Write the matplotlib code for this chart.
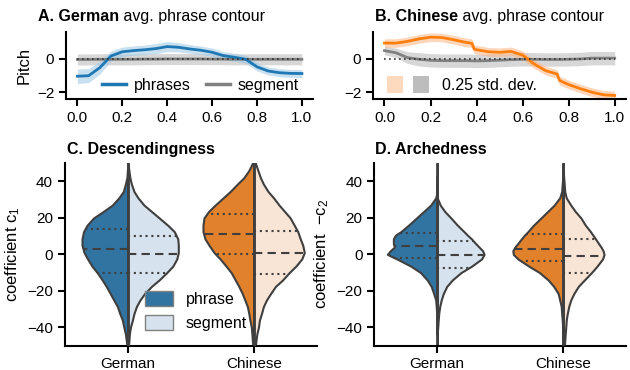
import matplotlib.pyplot as plt
import numpy as np
from matplotlib.patches import Patch
from matplotlib.lines import Line2D
from matplotlib.legend_handler import HandlerTuple

plt.rcParams['font.family'] = ['Liberation Sans', 'DejaVu Sans']
plt.rcParams['mathtext.fontset'] = 'custom'
plt.rcParams['mathtext.rm'] = 'Liberation Sans'
plt.rcParams['mathtext.it'] = 'Liberation Sans'
plt.rcParams['font.size'] = 11
plt.rcParams['axes.linewidth'] = 1.5
plt.rcParams['xtick.major.width'] = 1.5
plt.rcParams['ytick.major.width'] = 1.5
plt.rcParams['xtick.major.size'] = 5
plt.rcParams['ytick.major.size'] = 5

# --- average contours (panels A, B) ---
x_de = [0, .05, .1, .15, .2, .25, .3, .35, .4, .45, .5, .55, .6, .65, .7, .75, .8, .85, .9, .95, 1.0]
de_phrase = [-1.03, -1.0, -0.52, 0.18, 0.43, 0.5, 0.55, 0.62, 0.74, 0.7, 0.6, 0.52, 0.4, 0.2, 0.1, -0.02, -0.47, -0.72, -0.82, -0.86, -0.87]
de_phrase_sd = [0.43, 0.42, 0.38, 0.3, 0.28, 0.28, 0.28, 0.3, 0.3, 0.28, 0.26, 0.25, 0.25, 0.24, 0.24, 0.24, 0.24, 0.24, 0.24, 0.24, 0.24]
de_segment = [-0.03, -0.03, -0.02, -0.02, -0.02, -0.02, -0.01, -0.01, 0.0, 0.0, 0.0, 0.0, -0.01, -0.01, -0.02, -0.02, -0.02, -0.02, -0.02, -0.02, -0.02]
de_segment_sd = [0.33] * 21

x_zh = [0, .05, .1, .15, .2, .25, .3, .35, .38, .39, .45, .5, .55, .6, .65, .7, .75, .76, .8, .85, .9, .95, 1.0]
zh_phrase = [0.95, 0.95, 1.05, 1.2, 1.3, 1.28, 1.15, 1.0, 0.93, 0.58, 0.43, 0.4, 0.45, 0.23, -0.3, -0.7, -0.9, -1.28, -1.53, -1.77, -1.98, -2.14, -2.18]
zh_phrase_sd = [0.26] * 23
zh_segment = [0.5, 0.37, 0.08, -0.02, -0.08, -0.1, -0.1, -0.1, -0.11, -0.12, -0.1, -0.07, -0.04, -0.02, -0.02, -0.03, -0.03, -0.03, -0.02, 0.0, 0.05, 0.05, 0.05]
zh_segment_sd = [0.25, 0.28, 0.35, 0.4, 0.4, 0.4, 0.4, 0.4, 0.4, 0.4, 0.4, 0.4, 0.4, 0.4, 0.4, 0.4, 0.4, 0.4, 0.4, 0.4, 0.4, 0.4, 0.4]

# --- violin profiles (panels C, D): relative density at each coefficient level ---
c1_levels = [50, 46, 42, 38.5, 34.5, 31, 27, 23.5, 20, 16, 12.5, 8.5, 5, 1, -2.5, -6.5,
             -10, -14, -17.5, -21.5, -25, -28.5, -32.5, -36, -40, -43.5, -47.5, -50]
c1_de_phrase = [0, 0.01, 0.02, 0.05, 0.09, 0.18, 0.31, 0.49, 0.68, 0.81, 0.88, 0.91, 0.91, 0.87,
                0.8, 0.71, 0.61, 0.51, 0.43, 0.35, 0.28, 0.21, 0.16, 0.11, 0.08, 0.05, 0.03, 0.02]
c1_de_segment = [0, 0.02, 0.04, 0.07, 0.12, 0.2, 0.32, 0.47, 0.62, 0.79, 0.92, 0.99, 1.0, 1.0,
                 0.97, 0.89, 0.77, 0.62, 0.47, 0.33, 0.24, 0.17, 0.12, 0.09, 0.05, 0.03, 0.02, 0.01]
c1_zh_phrase = [0.03, 0.1, 0.2, 0.33, 0.47, 0.61, 0.77, 0.9, 0.99, 1.01, 1.01, 0.97, 0.89, 0.79,
                0.67, 0.55, 0.45, 0.37, 0.3, 0.23, 0.18, 0.13, 0.1, 0.08, 0.05, 0.04, 0.03, 0.02]
c1_zh_segment = [0.03, 0.08, 0.13, 0.19, 0.28, 0.39, 0.5, 0.61, 0.72, 0.8, 0.87, 0.92, 0.97, 1.0,
                 0.95, 0.83, 0.7, 0.57, 0.43, 0.33, 0.25, 0.19, 0.15, 0.11, 0.09, 0.06, 0.04, 0.03]

c2_levels = [50, 46, 42, 38.5, 34.5, 31, 27, 23.5, 20, 16, 12.5, 10.5, 8.5, 6, 4, 2, 0, -2.5,
             -6.5, -10, -14, -17.5, -21.5, -25, -28.5, -32.5, -36, -40, -43.5, -47.5, -50]
c2_de_phrase = [0, 0, 0, 0, 0, 0.03, 0.13, 0.27, 0.41, 0.57, 0.72, 0.83, 0.87, 0.87, 0.85, 0.93,
                0.99, 0.8, 0.52, 0.33, 0.2, 0.12, 0.07, 0.03, 0.02, 0.01, 0, 0, 0, 0, 0]
c2_de_segment = [0, 0, 0, 0, 0, 0, 0.06, 0.15, 0.27, 0.4, 0.53, 0.6, 0.68, 0.76, 0.83, 0.9,
                 0.93, 0.88, 0.68, 0.47, 0.3, 0.19, 0.12, 0.08, 0.05, 0.03, 0.02, 0.01, 0, 0, 0]
c2_zh_phrase = [0, 0, 0.01, 0.02, 0.03, 0.07, 0.18, 0.31, 0.44, 0.59, 0.7, 0.77, 0.83, 0.9, 0.96,
                1.0, 0.99, 0.9, 0.68, 0.47, 0.3, 0.19, 0.1, 0.07, 0.04, 0.03, 0.02, 0.01, 0.01, 0, 0]
c2_zh_segment = [0, 0, 0.01, 0.02, 0.03, 0.06, 0.15, 0.24, 0.35, 0.44, 0.54, 0.59, 0.64, 0.7, 0.75,
                 0.79, 0.81, 0.78, 0.67, 0.56, 0.42, 0.3, 0.21, 0.15, 0.11, 0.08, 0.06, 0.05, 0.04, 0.03, 0.02]

# quartiles (q1, median, q3)
c1_quart = {'de_phrase': [-10.3, 2.8, 13.8], 'de_segment': [-10.4, 0, 10.3],
            'zh_phrase': [0, 11.4, 22.2], 'zh_segment': [-11, 0.7, 12.7]}
c2_quart = {'de_phrase': [-2, 4.5, 11.9], 'de_segment': [-7.3, -0.2, 7.6],
            'zh_phrase': [-3.9, 3.2, 11.4], 'zh_segment': [-10.4, -0.9, 8.2]}
# extent of the centre line per language
c1_extent = [(-50, 50), (-50, 50)]
c2_extent = [(-44, 43), (-50, 50)]
languages = ['German', 'Chinese']

dark = {'German': '#3274a1', 'Chinese': '#e1812c'}
light = {'German': '#d6e2ed', 'Chinese': '#f9e5d6'}
edge = '#3f3f3f'


def contour_panel(ax, x, ph, ph_sd, seg, seg_sd, color, band):
    x = np.array(x)
    ph, ph_sd = np.array(ph), np.array(ph_sd)
    seg, seg_sd = np.array(seg), np.array(seg_sd)
    ax.fill_between(x, seg - seg_sd, seg + seg_sd, color='#bdbdbd', alpha=0.6, lw=0)
    ax.fill_between(x, ph - ph_sd, ph + ph_sd, color=band, alpha=0.55, lw=0)
    ax.plot(x, seg, color='#808080', lw=2)
    ax.plot([0, 1], [0, 0], color='#333333', ls=(0, (1, 2)), lw=1.2, zorder=3)
    ax.plot(x, ph, color=color, lw=2)
    ax.set_ylim(-2.4, 1.6)
    ax.set_yticks([-2, 0])
    ax.set_xticks(np.arange(0, 1.01, 0.2))
    for s in ['top', 'right']:
        ax.spines[s].set_visible(False)


def violin_panel(ax, levels, profiles, quart, extent):
    for i, lang in enumerate(languages):
        key = 'de' if lang == 'German' else 'zh'
        for side, part in [(-1, 'phrase'), (1, 'segment')]:
            dens = np.array(profiles[key + '_' + part]) * 0.4
            col = dark[lang] if part == 'phrase' else light[lang]
            ax.fill_betweenx(levels, i, i + side * dens, facecolor=col,
                             edgecolor=edge, lw=1.5, zorder=2)
            q = quart[key + '_' + part]
            for j, qv in enumerate(q):
                w = np.interp(qv, levels[::-1], dens[::-1])
                ls = (0, (4, 2.5)) if j == 1 else (0, (1, 1.8))
                ax.plot([i, i + side * w], [qv, qv], color=edge, lw=1.5, ls=ls, zorder=3)
        lo, hi = extent[i]
        ax.plot([i, i], [lo, hi], color=edge, lw=2, zorder=4, solid_capstyle='butt')
    ax.set_xlim(-0.5, 1.5)
    ax.set_ylim(-50, 50)
    ax.set_xticks([0, 1])
    ax.set_xticklabels(languages)
    ax.set_yticks([-40, -20, 0, 20, 40])
    for s in ['top', 'right']:
        ax.spines[s].set_visible(False)


fig = plt.figure(figsize=(6.3, 3.7), dpi=100)
axA = fig.add_axes([0.105, 0.732, 0.392, 0.181])
axB = fig.add_axes([0.592, 0.732, 0.402, 0.181])
axC = fig.add_axes([0.103, 0.066, 0.400, 0.493])
axD = fig.add_axes([0.594, 0.066, 0.400, 0.493])

contour_panel(axA, x_de, de_phrase, de_phrase_sd, de_segment, de_segment_sd, '#1f77b4', '#9ec8e6')
contour_panel(axB, x_zh, zh_phrase, zh_phrase_sd, zh_segment, zh_segment_sd, '#ff7f0e', '#fdb583')
axA.set_ylabel('Pitch', fontsize=12)

# titles with a bold lead-in
tA = fig.text(0.060, 0.943, 'A. German', fontsize=11.5, fontweight='bold', va='baseline')
axA.annotate(' avg. phrase contour', xy=(1, 0), xycoords=tA, fontsize=11.5, va='bottom',
             annotation_clip=False)
tB = fig.text(0.595, 0.943, 'B. Chinese', fontsize=11.5, fontweight='bold', va='baseline')
axB.annotate(' avg. phrase contour', xy=(1, 0), xycoords=tB, fontsize=11.5, va='bottom',
             annotation_clip=False)

axA.legend(handles=[Line2D([], [], color='#1f77b4', lw=2.5), Line2D([], [], color='#808080', lw=2.5)],
           labels=['phrases', 'segment'], ncol=2, frameon=False, fontsize=11.5,
           loc='lower right', bbox_to_anchor=(1.0, -0.12), handlelength=1.5,
           columnspacing=1.0, handletextpad=0.45)
pB = (Patch(facecolor='#fdd9bd'), Patch(facecolor='#bdbdbd'))
axB.legend(handles=[pB], labels=['0.25 std. dev.'], handler_map={tuple: HandlerTuple(ndivide=None, pad=0.6)},
           frameon=False, fontsize=11.5, loc='lower left', bbox_to_anchor=(0.0, -0.12),
           handlelength=2.6, handleheight=1.2, handletextpad=0.8)

violin_panel(axC, c1_levels, {'de_phrase': c1_de_phrase, 'de_segment': c1_de_segment,
                              'zh_phrase': c1_zh_phrase, 'zh_segment': c1_zh_segment}, c1_quart, c1_extent)
violin_panel(axD, c2_levels, {'de_phrase': c2_de_phrase, 'de_segment': c2_de_segment,
                              'zh_phrase': c2_zh_phrase, 'zh_segment': c2_zh_segment}, c2_quart, c2_extent)
axC.set_ylabel(r'coefficient c$_1$', fontsize=12)
axD.set_ylabel(r'coefficient  $-$c$_2$', fontsize=12)
fig.text(0.106, 0.584, 'C. Descendingness', fontsize=11.5, fontweight='bold', va='baseline')
fig.text(0.595, 0.584, 'D. Archedness', fontsize=11.5, fontweight='bold', va='baseline')

axC.legend(handles=[Patch(facecolor=dark['German'], edgecolor='#808080'),
                    Patch(facecolor=light['German'], edgecolor='#808080')],
           labels=['phrase', 'segment'], frameon=False, fontsize=11.5,
           loc='lower center', bbox_to_anchor=(0.52, 0.0), handlelength=1.8, handleheight=1.1)

fig.savefig('out.png', dpi=100)
